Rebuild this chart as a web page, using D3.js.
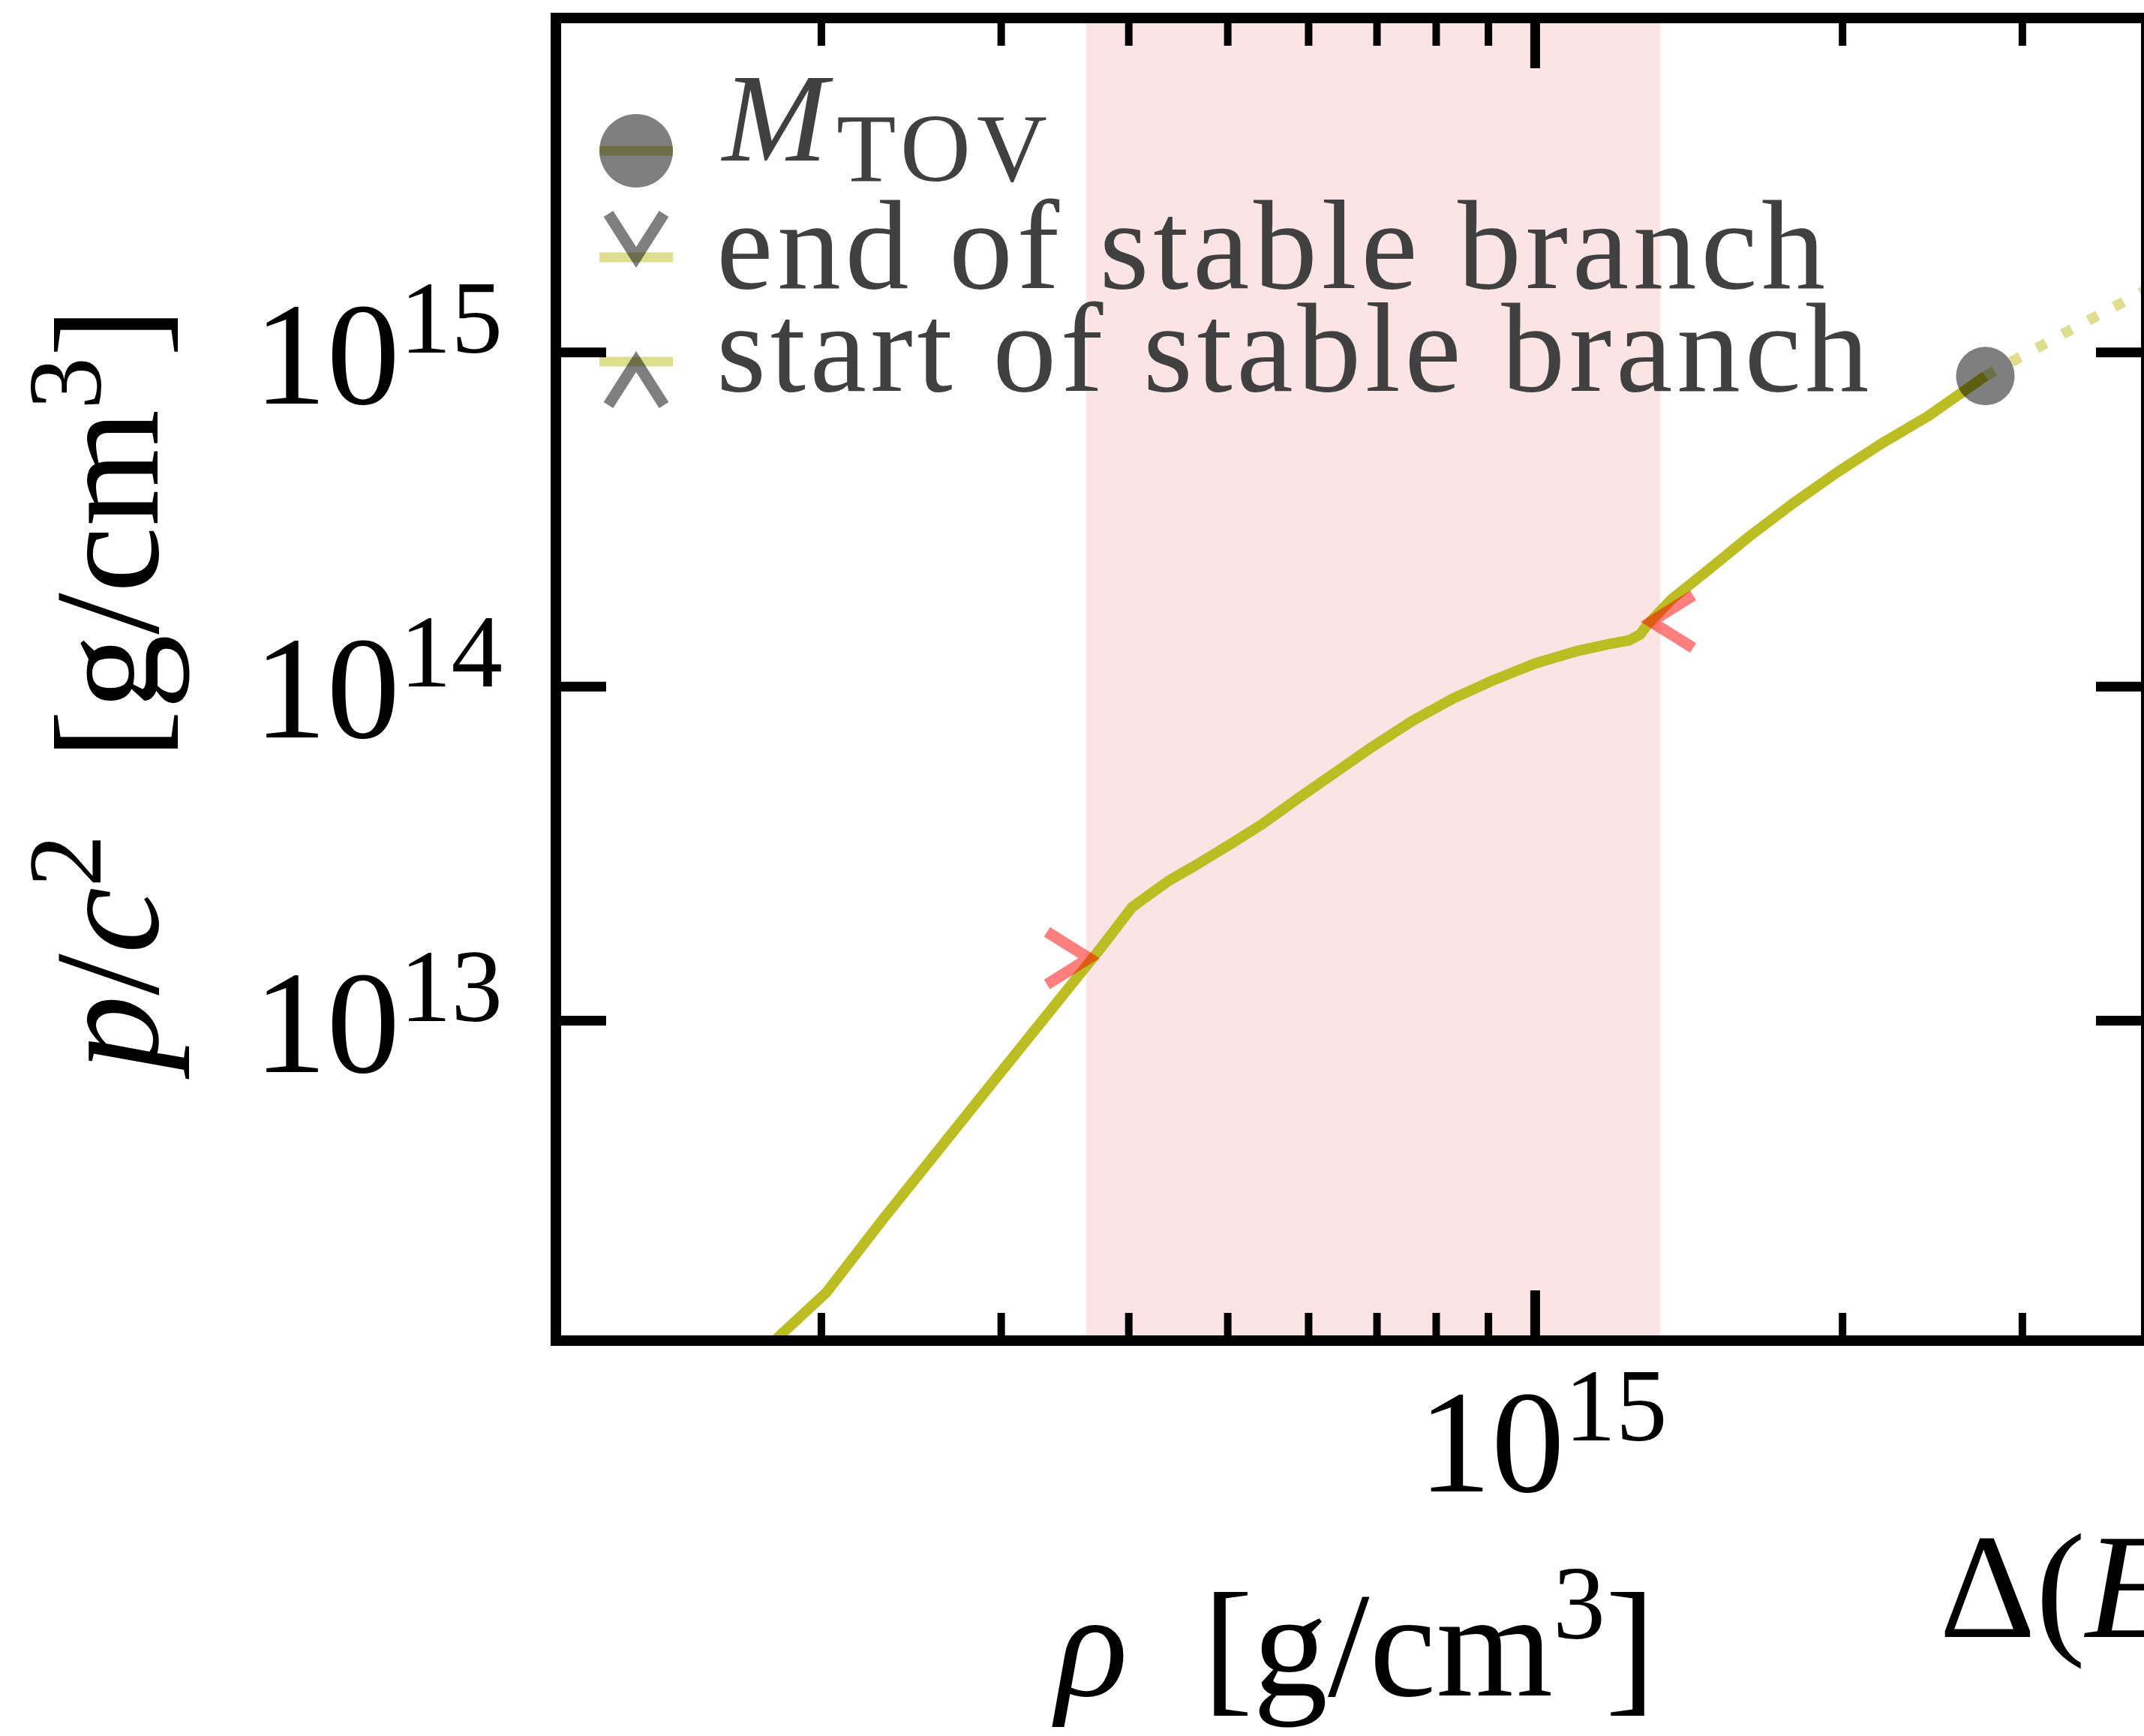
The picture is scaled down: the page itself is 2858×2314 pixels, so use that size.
<!DOCTYPE html>
<html>
<head>
<meta charset="utf-8">
<script src="https://cdn.jsdelivr.net/npm/d3@7"></script>
<style>
  html, body { margin: 0; padding: 0; background: #fff; }
  svg { display: block; }
  text { font-family: "Liberation Serif", "Times New Roman", serif; }
</style>
</head>
<body>
<svg id="chart" width="2858" height="2314"></svg>
<script>
// Equation of state: rest-mass density (g/cm^3) and pressure p/c^2 (g/cm^3)
// along the branch up to the maximum-mass configuration.
const rhoStable = [1.702e14, 1.835e14, 2.025e14, 2.302e14, 2.598e14, 2.933e14, 3.310e14,
  3.746e14, 4.033e14, 4.380e14, 4.668e14, 5.072e14, 5.410e14, 5.877e14, 6.319e14, 6.930e14,
  7.599e14, 8.329e14, 9.127e14, 1.000e15, 1.097e15, 1.181e15, 1.236e15, 1.268e15, 1.289e15,
  1.361e15, 1.484e15, 1.623e15, 1.790e15, 1.975e15, 2.198e15, 2.424e15, 2.762e15];
const pStable = [9.26e11, 1.161e12, 1.535e12, 2.549e12, 4.042e12, 6.415e12, 1.016e13,
  1.625e13, 2.181e13, 2.616e13, 2.927e13, 3.417e13, 3.868e13, 4.641e13, 5.410e13, 6.583e13,
  7.898e13, 9.207e13, 1.045e14, 1.169e14, 1.272e14, 1.336e14, 1.371e14, 1.428e14, 1.527e14,
  1.820e14, 2.249e14, 2.812e14, 3.525e14, 4.355e14, 5.382e14, 6.416e14, 8.479e14];

// Continuation beyond the maximum mass (drawn dotted)
const rhoBeyond = [2.762e15, 3.350e15, 4.246e15];
const pBeyond = [8.479e14, 1.168e15, 1.711e15];

// Special points [rho, p/c^2]
const mTovPoint = [2.762e15, 8.479e14];
const endStablePoint = [3.66e14, 1.535e13];
const startStablePoint = [1.30e15, 1.56e14];

// Density interval without stable configurations
const unstableBand = [3.638e14, 1.327e15];

// Axis ranges and ticks
const xDomain = [1.1e14, 3.97e15];
const yDomain = [1.1e12, 1e16];
const xMajorTicks = [1e15];
const xMinorTicks = [2e14, 3e14, 4e14, 5e14, 6e14, 7e14, 8e14, 9e14, 2e15, 3e15];
const yMajorTicks = [1e13, 1e14, 1e15];

const legendLabels = ["end of stable branch", "start of stable branch"];

(function draw() {
  const olive = "#bcbd22";
  const svg = d3.select("#chart");

  const pl = 741, pr = 2861, pt = 24, pb = 1787;
  const x = d3.scaleLog().domain(xDomain).range([pl, pr]);
  const y = d3.scaleLog().domain(yDomain).range([pb, pt]);

  svg.append("defs").append("clipPath").attr("id", "plotClip")
    .append("rect")
    .attr("x", pl).attr("y", pt)
    .attr("width", pr - pl).attr("height", pb - pt);

  const plot = svg.append("g").attr("clip-path", "url(#plotClip)");

  // shaded density band
  plot.append("rect")
    .attr("x", x(unstableBand[0]))
    .attr("y", pt)
    .attr("width", x(unstableBand[1]) - x(unstableBand[0]))
    .attr("height", pb - pt)
    .attr("fill", "#fce4e5");

  const line = d3.line().x(d => x(d[0])).y(d => y(d[1]));

  // dotted continuation
  plot.append("path")
    .datum(d3.zip(rhoBeyond, pBeyond))
    .attr("d", line)
    .attr("fill", "none")
    .attr("stroke", olive)
    .attr("stroke-opacity", 0.5)
    .attr("stroke-width", 14)
    .attr("stroke-dasharray", "14 25");

  // stable branch
  plot.append("path")
    .datum(d3.zip(rhoStable, pStable))
    .attr("d", line)
    .attr("fill", "none")
    .attr("stroke", olive)
    .attr("stroke-width", 14)
    .attr("stroke-linejoin", "round");

  // chevron markers: vertex at the data point
  const chevron = {
    right: "M-56,-35L0,0L-56,35",
    left: "M56,-35L0,0L56,35",
    down: "M-37,-58L0,0L37,-58",
    up: "M-37,58L0,0L37,58"
  };

  plot.append("path")
    .attr("transform", `translate(${x(endStablePoint[0])},${y(endStablePoint[1])})`)
    .attr("d", chevron.right)
    .attr("fill", "none").attr("stroke", "red").attr("stroke-opacity", 0.5)
    .attr("stroke-width", 15).attr("stroke-linejoin", "miter");

  plot.append("path")
    .attr("transform", `translate(${x(startStablePoint[0])},${y(startStablePoint[1])})`)
    .attr("d", chevron.left)
    .attr("fill", "none").attr("stroke", "red").attr("stroke-opacity", 0.5)
    .attr("stroke-width", 15).attr("stroke-linejoin", "miter");

  plot.append("circle")
    .attr("cx", x(mTovPoint[0])).attr("cy", y(mTovPoint[1]))
    .attr("r", 39)
    .attr("fill", "black").attr("fill-opacity", 0.5);

  // ---- legend ----
  const legend = svg.append("g");
  const hx0 = 799, hx1 = 897, hcx = (hx0 + hx1) / 2;
  const rowY = [201, 343, 482];
  const textX = 955;
  const legendColor = "#404040";

  rowY.forEach(ry => {
    legend.append("line")
      .attr("x1", hx0).attr("x2", hx1).attr("y1", ry).attr("y2", ry)
      .attr("stroke", olive).attr("stroke-opacity", 0.5).attr("stroke-width", 13);
  });
  legend.append("circle")
    .attr("cx", hcx).attr("cy", rowY[0]).attr("r", 49)
    .attr("fill", "black").attr("fill-opacity", 0.5);
  legend.append("path")
    .attr("transform", `translate(${hcx},${rowY[1]})`)
    .attr("d", chevron.down)
    .attr("fill", "none").attr("stroke", "black").attr("stroke-opacity", 0.5)
    .attr("stroke-width", 15);
  legend.append("path")
    .attr("transform", `translate(${hcx},${rowY[2]})`)
    .attr("d", chevron.up)
    .attr("fill", "none").attr("stroke", "black").attr("stroke-opacity", 0.5)
    .attr("stroke-width", 15);

  const mt = legend.append("text")
    .attr("x", 963).attr("y", 214)
    .attr("font-size", 168).attr("fill", legendColor);
  mt.append("tspan").attr("font-style", "italic").text("M");
  mt.append("tspan").attr("font-size", 130).attr("dy", 27).attr("dx", 12)
    .attr("letter-spacing", 8).text("TOV");

  [384, 521].forEach((by, i) => {
    legend.append("text")
      .attr("x", textX).attr("y", by)
      .attr("font-size", 170).attr("letter-spacing", 5.5)
      .attr("fill", legendColor)
      .text(legendLabels[i]);
  });

  // ---- frame and ticks ----
  function styleTicks(g, width) {
    g.select(".domain").remove();
    g.selectAll(".tick line").attr("stroke", "black").attr("stroke-width", width);
    g.selectAll(".tick text").remove();
  }

  svg.append("g").attr("transform", `translate(0,${pb})`)
    .call(d3.axisBottom(x).tickValues(xMinorTicks).tickSize(-37).tickFormat(""))
    .call(g => styleTicks(g, 10));
  svg.append("g").attr("transform", `translate(0,${pt})`)
    .call(d3.axisTop(x).tickValues(xMinorTicks).tickSize(-37).tickFormat(""))
    .call(g => styleTicks(g, 10));

  const xMajor = svg.append("g").attr("transform", `translate(0,${pb})`)
    .call(d3.axisBottom(x).tickValues(xMajorTicks).tickSize(-67).tickFormat(""))
    .call(g => styleTicks(g, 13));
  svg.append("g").attr("transform", `translate(0,${pt})`)
    .call(d3.axisTop(x).tickValues(xMajorTicks).tickSize(-67).tickFormat(""))
    .call(g => styleTicks(g, 13));

  const yLeft = svg.append("g").attr("transform", `translate(${pl},0)`)
    .call(d3.axisLeft(y).tickValues(yMajorTicks).tickSize(-67).tickFormat(""))
    .call(g => styleTicks(g, 13));
  svg.append("g").attr("transform", `translate(${pr},0)`)
    .call(d3.axisRight(y).tickValues(yMajorTicks).tickSize(-67).tickFormat(""))
    .call(g => styleTicks(g, 13));

  svg.append("rect")
    .attr("x", pl).attr("y", pt)
    .attr("width", pr - pl).attr("height", pb - pt)
    .attr("fill", "none").attr("stroke", "black").attr("stroke-width", 14);

  // power-of-ten tick labels
  function powerLabel(sel, d) {
    const e = Math.round(Math.log10(d));
    sel.append("tspan").text("10");
    sel.append("tspan").attr("font-size", 137).attr("dy", -68).text(String(e));
  }

  yLeft.selectAll(".tick").append("text")
    .attr("x", 670 - pl).attr("y", 68)
    .attr("text-anchor", "end").attr("font-size", 195).attr("fill", "black")
    .each(function(d) { powerLabel(d3.select(this), d); });

  xMajor.selectAll(".tick").append("text")
    .attr("x", 10).attr("y", 1988 - pb)
    .attr("text-anchor", "middle").attr("font-size", 195).attr("fill", "black")
    .each(function(d) { powerLabel(d3.select(this), d); });

  // axis titles
  const xt = svg.append("text")
    .attr("x", (pl + pr) / 2 + 6).attr("y", 2260)
    .attr("text-anchor", "middle").attr("font-size", 200).attr("fill", "black");
  xt.append("tspan").attr("font-style", "italic").text("ρ");
  xt.append("tspan").text("\u2002[g/cm");
  xt.append("tspan").attr("font-size", 140).attr("dy", -76).text("3");
  xt.append("tspan").attr("dy", 76).text("]");

  const yt = svg.append("text")
    .attr("transform", `translate(210,918) rotate(-90)`)
    .attr("text-anchor", "middle").attr("font-size", 200).attr("fill", "black");
  yt.append("tspan").attr("font-style", "italic").text("p");
  yt.append("tspan").text("/");
  yt.append("tspan").attr("font-style", "italic").text("c");
  yt.append("tspan").attr("font-size", 140).attr("dy", -76).text("2");
  yt.append("tspan").attr("dy", 76).text("\u2002[g/cm");
  yt.append("tspan").attr("font-size", 140).attr("dy", -76).text("3");
  yt.append("tspan").attr("dy", 76).text("]");

  // title of the neighbouring panel's horizontal axis, running off the right edge
  const nt = svg.append("text")
    .attr("x", 2585).attr("y", 2182)
    .attr("font-size", 200).attr("fill", "black");
  nt.append("tspan").text("Δ(");
  nt.append("tspan").attr("font-style", "italic").text("E");
})();
</script>
</body>
</html>
